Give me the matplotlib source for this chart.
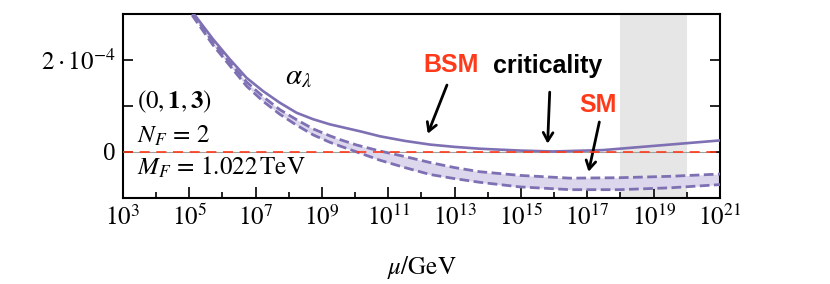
import numpy as np
import matplotlib.pyplot as plt
from matplotlib.ticker import NullFormatter

plt.rcParams['font.family'] = ['Liberation Serif', 'DejaVu Serif']
plt.rcParams['mathtext.fontset'] = 'stix'

# ==========================
# Data (log10 mu, alpha_lambda in units of 1e-4)
# ==========================
bsm_logmu = [4.9, 5.11, 5.72, 6.23, 6.73, 7.23, 7.73, 8.24, 8.74, 9.24, 9.54, 10.2, 10.75,
             11.5, 12.26, 13.0, 13.76, 14.97, 15.96, 17.47, 18.98, 21.0]
bsm_alpha = [3.3, 3.03, 2.45, 2.01, 1.61, 1.32, 1.07, 0.85, 0.71, 0.60, 0.55, 0.44, 0.34,
             0.24, 0.16, 0.11, 0.07, 0.03, 0.01, 0.04, 0.13, 0.25]

sm_logmu = [4.9, 5.11, 5.72, 6.23, 6.73, 7.23, 7.73, 8.24, 8.74, 9.24, 9.54, 10.05, 10.75,
            11.5, 12.26, 13.0, 13.76, 14.97, 16.48, 17.98, 19.49, 21.0]
sm_upper = [3.3, 3.0, 2.38, 1.94, 1.52, 1.2, 0.92, 0.70, 0.50, 0.35, 0.27, 0.15, 0.02,
            -0.1, -0.23, -0.34, -0.43, -0.51, -0.57, -0.56, -0.53, -0.48]
sm_lower = [3.25, 2.95, 2.32, 1.87, 1.43, 1.1, 0.82, 0.58, 0.37, 0.21, 0.13, 0.0, -0.18,
            -0.34, -0.49, -0.58, -0.66, -0.76, -0.82, -0.82, -0.78, -0.71]

planck_band = [18, 20]          # log10 mu of gray band
ytick_vals = [0, 1, 2]
ytick_text = ['0', '', r'$2\cdot10^{-4}$']

purple = '#7e70b3'
red = '#ff3a1a'

fig = plt.figure(figsize=(8.3, 2.84), dpi=100)
ax = fig.add_axes([0.148, 0.303, 0.7195, 0.648])

mu_bsm = 10.0 ** np.array(bsm_logmu)
mu_sm = 10.0 ** np.array(sm_logmu)

ax.axvspan(10.0 ** planck_band[0], 10.0 ** planck_band[1], color='#e6e6e6', lw=0, zorder=0)
ax.axhline(0, color='#a0a0a0', lw=0.8, zorder=1)
ax.axhline(0, color=red, lw=1.2, ls=(0, (6, 4)), zorder=4)

ax.fill_between(mu_sm, sm_lower, sm_upper, color='#dcd7ec', lw=0, zorder=2)
ax.plot(mu_sm, sm_upper, color=purple, lw=2, ls=(0, (3.5, 1.6)), zorder=3)
ax.plot(mu_sm, sm_lower, color=purple, lw=2, ls=(0, (3.5, 1.6)), zorder=3)
ax.plot(mu_bsm, bsm_alpha, color=purple, lw=1.9, zorder=3)

ax.set_xscale('log')
ax.set_xlim(1e3, 1e21)
ax.set_ylim(-1, 3)
ax.set_xticks([10.0 ** k for k in range(3, 22, 2)])
ax.set_xticks([10.0 ** k for k in range(4, 21, 2)], minor=True)
ax.xaxis.set_minor_formatter(NullFormatter())
ax.set_xticklabels([r'$10^{%d}$' % k for k in range(3, 22, 2)])
ax.set_yticks(ytick_vals)
ax.set_yticklabels(ytick_text)
ax.tick_params(axis='x', which='major', direction='in', length=8, width=1.2, labelsize=18, pad=5)
ax.tick_params(axis='x', which='minor', direction='in', length=4, width=1.2)
ax.tick_params(axis='y', which='both', direction='in', length=7, width=1.2, labelsize=18,
               right=True, left=True, pad=5)
for s in ax.spines.values():
    s.set_linewidth(1.5)

ax.set_xlabel(r'$\mu/\mathrm{GeV}$', fontsize=18, labelpad=17)

# labels
ax.text(10 ** 8.28, 1.62, r'$\alpha_\lambda$', fontsize=21, ha='center', va='center')
ax.text(10 ** 3.42, 1.08, r'$(0,\mathbf{1},\mathbf{3})$', fontsize=18, ha='left', va='center')
ax.text(10 ** 3.42, 0.34, r'$N_F\,=\,2$', fontsize=18, ha='left', va='center')
ax.text(10 ** 3.42, -0.34, r'$M_F\,=\,1.022\,\mathrm{TeV}$', fontsize=18, ha='left', va='center')

lab = dict(fontsize=18, fontweight='bold', family=['Liberation Sans', 'DejaVu Sans'],
           ha='center', va='center')
ax.text(10 ** 12.89, 1.88, 'BSM', color=red, **lab)
ax.text(10 ** 15.81, 1.86, 'criticality', color='black', **lab)
ax.text(10 ** 17.32, 1.01, 'SM', color=red, **lab)

arrow = dict(arrowstyle='->,head_length=0.6,head_width=0.35', color='black', lw=2)
ax.annotate('', xy=(10 ** 12.16, 0.34), xytext=(10 ** 12.8, 1.51), arrowprops=arrow)
ax.annotate('', xy=(10 ** 15.8, 0.12), xytext=(10 ** 15.87, 1.36), arrowprops=arrow)
ax.annotate('', xy=(10 ** 17.02, -0.49), xytext=(10 ** 17.38, 0.71), arrowprops=arrow)

plt.savefig('out.png', dpi=100)
